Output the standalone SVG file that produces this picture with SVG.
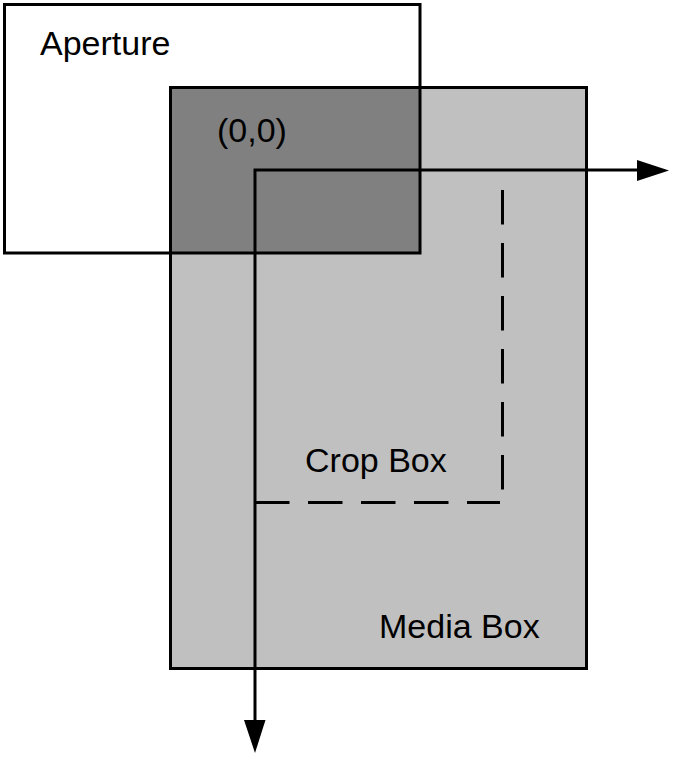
<svg xmlns="http://www.w3.org/2000/svg" width="686" height="768" viewBox="0 0 686 768">
<style>
.lbl{font-family:"Liberation Sans",Arial,sans-serif;font-size:34px;fill:#000}
.edge{fill:none;stroke:#000;stroke-width:3}
.ax{fill:none;stroke:#000;stroke-width:3}
.dash{fill:none;stroke:#000;stroke-width:3;stroke-dasharray:34.5 18.5}
.head{fill:#000;stroke:none}
</style>
<rect width="686" height="768" fill="#fff"/>
<g id="aperture">
<rect x="4.5" y="4.5" width="415.5" height="248.5" fill="#fff"/>
</g>
<g id="media-box">
<rect x="170.5" y="87.5" width="416" height="581" fill="#c0c0c0"/>
<rect x="170.5" y="87.5" width="249.5" height="165.5" fill="#808080"/>
<rect x="170.5" y="87.5" width="416" height="581" class="edge"/>
<text class="lbl" x="379" y="638">Media Box</text>
</g>
<g id="aperture-outline">
<rect x="4.5" y="4.5" width="415.5" height="248.5" class="edge"/>
<text class="lbl" x="40" y="55">Aperture</text>
</g>
<g id="crop-box">
<line x1="502.5" y1="190" x2="502.5" y2="502" class="dash"/>
<line x1="255" y1="502.5" x2="500" y2="502.5" class="dash"/>
<text class="lbl" x="305" y="472">Crop Box</text>
</g>
<g id="origin">
<text class="lbl" x="217" y="142">(0,0)</text>
</g>
<g id="connectors">
<polyline points="640,170 255,170 255,722" class="ax"/>
<polygon points="637,160 669,170.5 637,181" class="head"/>
<polygon points="244,720 265.5,720 255,753" class="head"/>
</g>
</svg>
